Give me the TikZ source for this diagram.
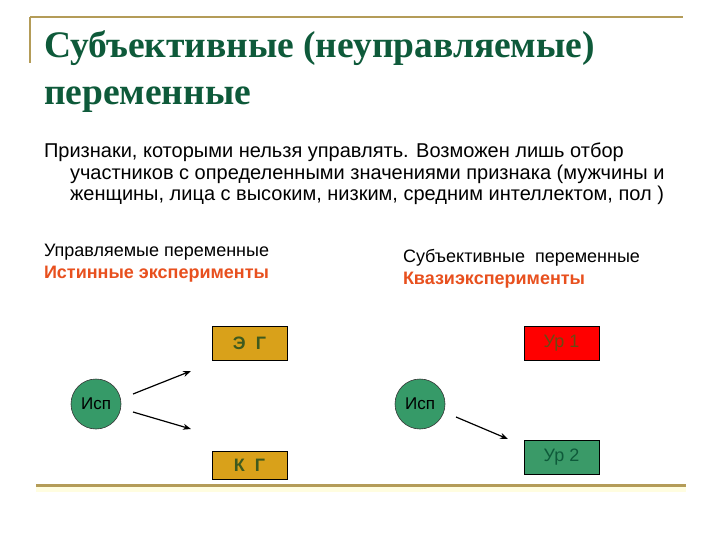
\documentclass[tikz,border=0pt]{standalone}
\usepackage{fontspec}
\setmainfont{Liberation Sans}
\newfontfamily\titlefont{Liberation Serif}
\usetikzlibrary{arrows.meta}
\definecolor{titlegreen}{HTML}{0E5A3A}
\definecolor{rulegold}{HTML}{B49C58}
\definecolor{goldbox}{HTML}{D9A11A}
\definecolor{circgreen}{HTML}{369A68}
\definecolor{qred}{HTML}{E8501E}
\definecolor{darkolive}{HTML}{3E5A1E}
\definecolor{boxgreen}{HTML}{3A9A68}
\definecolor{urtext}{HTML}{6A4A14}
\begin{document}
\begin{tikzpicture}[x=1pt,y=-1pt,
  txt/.style={anchor=base west,inner sep=0pt,outer sep=0pt},
  title/.style={txt,font=\titlefont\bfseries\fontsize{37.5}{44}\selectfont,text=titlegreen},
  body/.style={txt,font=\fontsize{20}{22}\selectfont},
  small/.style={txt,font=\fontsize{18}{20}\selectfont},
  smallred/.style={txt,font=\fontsize{18}{20}\selectfont\bfseries,text=qred},
  grpbox/.style={draw=black,line width=0.8pt,minimum width=75pt,minimum height=34pt,inner sep=0pt,font=\fontsize{18}{20}\selectfont\bfseries},
  person/.style={circle,draw=black!80,line width=0.6pt,fill=circgreen,minimum size=50pt,inner sep=0pt,font=\fontsize{17}{19}\selectfont},
  arr/.style={-{Stealth[length=8pt,width=6pt]},line width=1.2pt}
]
\useasboundingbox (0,0) rectangle (720,540);
\fill[white] (0,0) rectangle (720,540);
% frame rules
\draw[rulegold,line width=2pt] (30,17) -- (683,17);
\draw[rulegold,line width=2pt] (30,17) -- (30,63);
\fill[yellow!12] (36,486) rectangle (686,492);
\draw[rulegold,line width=3pt] (36,485) -- (686,485);
% title
\node[title] (t1) at (44,58) {Субъективные (неуправляемые)};
\node[title] (t2) at (44,105) {переменные};
% body
\node[body] (b1) at (44,158) {Признаки, которыми нельзя управлять. Возможен лишь отбор};
\node[body] (b2) at (70,180) {участников с определенными значениями признака (мужчины и};
\node[body] (b3) at (70,201) {женщины, лица с высоким, низким, средним интеллектом, пол )};
% column headers
\node[small] (h1) at (44,256) {Управляемые переменные};
\node[smallred] (h2) at (44,278) {Истинные эксперименты};
\node[small] (h3) at (403,262) {Субъективные\ \ переменные};
\node[smallred] (h4) at (403,284) {Квазиэксперименты};
% left diagram
\node[grpbox,fill=goldbox,text=darkolive] (eg) at (249.5,343) {Э\ \ Г};
\node[grpbox,fill=goldbox,text=darkolive,minimum height=28pt] (kg) at (249.5,465) {К\ \ Г};
\node[person] (isp1) at (96,404) {Исп};
\coordinate (a1s) at (133,394);
\coordinate (a1e) at (191,371);
\coordinate (a2s) at (133,412);
\coordinate (a2e) at (191,429);
\draw[arr] (a1s) -- (a1e);
\draw[arr] (a2s) -- (a2e);
% right diagram
\node[grpbox,fill=red,text=urtext,font=\fontsize{18}{20}\selectfont] (ur1) at (561.5,343.5) {Ур 1};
\node[grpbox,fill=boxgreen,text=titlegreen,font=\fontsize{18}{20}\selectfont] (ur2) at (561.5,457.5) {Ур 2};
\node[person] (isp2) at (420,404) {Исп};
\coordinate (a3s) at (456,417);
\coordinate (a3e) at (508,439);
\draw[arr] (a3s) -- (a3e);
\end{tikzpicture}
\end{document}
